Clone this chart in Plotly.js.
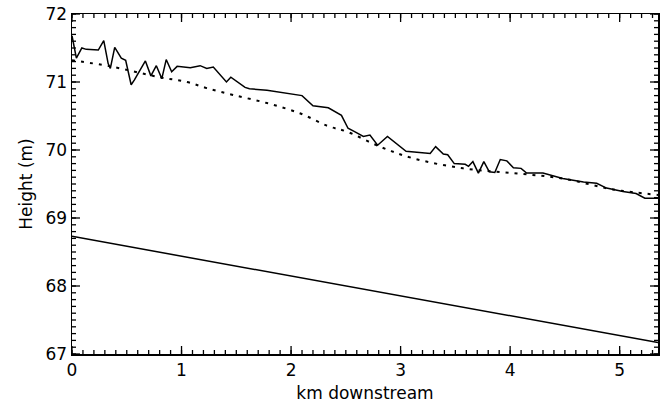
<!DOCTYPE html>
<html>
<head>
<meta charset="utf-8">
<script src="https://cdn.plot.ly/plotly-3.0.1.min.js"></script>
<style>html,body{margin:0;padding:0;background:#fff;}#chart{width:660px;height:408px;}</style>
</head>
<body>
<div id="chart"></div>
<script>
// Observed water surface (solid, noisy)
const obsX = [0, 0.04, 0.09, 0.13, 0.24, 0.29, 0.33, 0.35, 0.39, 0.45, 0.49, 0.54, 0.57, 0.67, 0.72, 0.77, 0.82, 0.86, 0.91, 0.96, 1.08, 1.17, 1.23, 1.29, 1.41, 1.45, 1.58, 1.62, 1.78, 1.96, 2.10, 2.20, 2.34, 2.46, 2.52, 2.58, 2.66, 2.72, 2.79, 2.88, 3.05, 3.27, 3.32, 3.39, 3.43, 3.49, 3.59, 3.62, 3.66, 3.71, 3.76, 3.81, 3.86, 3.91, 3.97, 4.03, 4.10, 4.15, 4.30, 4.48, 4.67, 4.79, 4.88, 5.03, 5.15, 5.23, 5.35];
const obsY = [71.68, 71.35, 71.50, 71.48, 71.47, 71.61, 71.27, 71.20, 71.51, 71.35, 71.32, 70.96, 71.03, 71.31, 71.09, 71.24, 71.05, 71.33, 71.15, 71.23, 71.21, 71.24, 71.20, 71.22, 71.00, 71.07, 70.92, 70.90, 70.88, 70.83, 70.80, 70.65, 70.62, 70.51, 70.32, 70.27, 70.20, 70.22, 70.07, 70.20, 69.98, 69.95, 70.05, 69.94, 69.93, 69.80, 69.79, 69.76, 69.83, 69.66, 69.83, 69.68, 69.67, 69.86, 69.84, 69.74, 69.73, 69.66, 69.66, 69.58, 69.53, 69.51, 69.44, 69.39, 69.36, 69.29, 69.29];
// Modelled surface (dotted, smooth)
const modX = [0, 0.35, 0.80, 1.05, 1.23, 1.47, 1.78, 2.08, 2.34, 2.51, 2.81, 3.11, 3.57, 4.03, 4.48, 4.94, 5.35];
const modY = [71.32, 71.23, 71.07, 71.00, 70.91, 70.81, 70.69, 70.54, 70.35, 70.27, 70.05, 69.88, 69.73, 69.66, 69.58, 69.42, 69.34];
// Bed (solid, straight)
const bedX = [0, 5.35];
const bedY = [68.73, 67.17];

const xTickVals = [0, 1, 2, 3, 4, 5];
const yTickVals = [67, 68, 69, 70, 71, 72];
const xRange = [0, 5.35];
const yRange = [67, 72];
const MINOR_PER_MAJOR = 10;

const W = 660, H = 408;
const M = {l: 72, r: 2, t: 14, b: 54};
const pxPerX = (W - M.l - M.r) / (xRange[1] - xRange[0]);
const pxPerY = (H - M.t - M.b) / (yRange[1] - yRange[0]);

const FAM = 'DejaVu Sans, Verdana, sans-serif';
const font = {family: FAM, size: 17, color: '#000'};

// Minor tick positions derived from the major tick arrays, inside the axis range
function minorTicks(major, range) {
  const step = (major[1] - major[0]) / MINOR_PER_MAJOR;
  const out = [];
  const start = major[0] - Math.floor((major[0] - range[0]) / step + 1e-9) * step;
  for (let v = start; v <= range[1] + 1e-9; v += step) out.push(+v.toFixed(6));
  return out;
}
const xMinor = minorTicks(xTickVals, xRange);
const yMinor = minorTicks(yTickVals, yRange);

// Inward tick marks on all four frame edges, drawn as short line segments (null-separated)
function tickSegments(vals, axisName, lenPx) {
  const xs = [], ys = [];
  if (axisName === 'x') {
    const d = lenPx / pxPerY;
    vals.forEach(v => {
      xs.push(v, v, null); ys.push(yRange[0], yRange[0] + d, null);
      xs.push(v, v, null); ys.push(yRange[1], yRange[1] - d, null);
    });
  } else {
    const d = lenPx / pxPerX;
    vals.forEach(v => {
      xs.push(xRange[0], xRange[0] + d, null); ys.push(v, v, null);
      xs.push(xRange[1], xRange[1] - d, null); ys.push(v, v, null);
    });
  }
  return {x: xs, y: ys, mode: 'lines', connectgaps: false, cliponaxis: false, hoverinfo: 'skip',
          line: {color: '#000', width: 1.3}};
}

const traces = [
  {x: obsX, y: obsY, mode: 'lines', line: {color: '#000', width: 1.5}, hoverinfo: 'skip'},
  {x: modX, y: modY, mode: 'lines', line: {color: '#000', width: 2, dash: '3px,6px', shape: 'spline'}, hoverinfo: 'skip'},
  {x: bedX, y: bedY, mode: 'lines', line: {color: '#000', width: 1.5}, hoverinfo: 'skip'},
  tickSegments(xTickVals, 'x', 8),
  tickSegments(xMinor, 'x', 4),
  tickSegments(yTickVals, 'y', 8),
  tickSegments(yMinor, 'y', 4)
];

function axisCommon(ticks, range) {
  return {
    range: range, autorange: false,
    showgrid: false, zeroline: false, showline: true, linecolor: '#000', linewidth: 1.5,
    mirror: true, ticks: '',
    tickvals: ticks, ticktext: ticks.map(String),
    tickfont: font
  };
}

const layout = {
  width: W, height: H,
  margin: {l: M.l, r: M.r, t: M.t, b: M.b},
  paper_bgcolor: '#fff', plot_bgcolor: '#fff',
  showlegend: false,
  font: font,
  xaxis: Object.assign(axisCommon(xTickVals, xRange), {
    title: {text: 'km downstream', font: {family: FAM, size: 17, color: '#000'}, standoff: 8}
  }),
  yaxis: Object.assign(axisCommon(yTickVals, yRange), {
    ticksuffix: ' ',
    title: {text: 'Height (m)', font: {family: FAM, size: 17, color: '#000'}, standoff: 8}
  })
};

Plotly.newPlot('chart', traces, layout, {displayModeBar: false, staticPlot: true});
</script>
</body>
</html>
